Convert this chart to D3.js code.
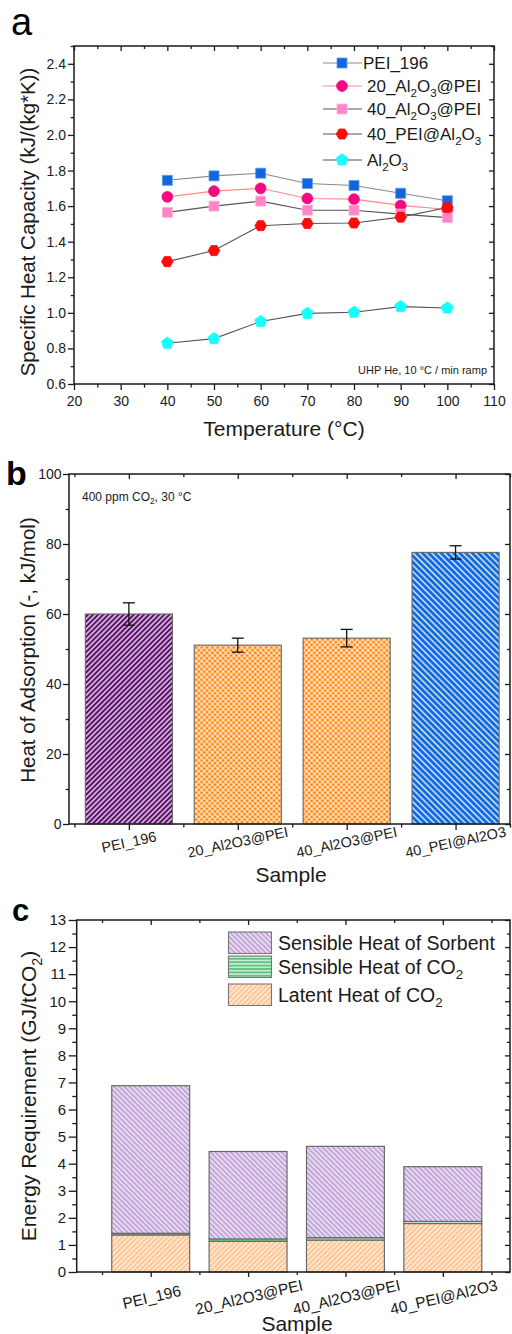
<!DOCTYPE html>
<html><head><meta charset="utf-8">
<script src="https://cdn.jsdelivr.net/npm/d3@7"></script>
<style>
html,body{margin:0;padding:0;background:#fff;}
svg{display:block;font-family:"Liberation Sans",Arial,sans-serif;}
</style></head><body>
<svg id="fig" width="512" height="1334"></svg>
<script>
// ---- Panel a: specific heat capacity vs temperature ----
const temperatures = [40, 50, 60, 70, 80, 90, 100];
const cpPEI196     = [1.745, 1.770, 1.785, 1.727, 1.716, 1.672, 1.630];
const cp20Al2O3PEI = [1.652, 1.684, 1.700, 1.643, 1.639, 1.604, 1.581];
const cp40Al2O3PEI = [1.565, 1.600, 1.628, 1.577, 1.577, 1.555, 1.535];
const cp40PEIAl2O3 = [1.288, 1.350, 1.490, 1.502, 1.505, 1.538, 1.592];
const cpAl2O3      = [0.829, 0.855, 0.951, 0.997, 1.003, 1.035, 1.027];
const cpSeriesNames = ["PEI_196", "20_Al2O3@PEI", "40_Al2O3@PEI", "40_PEI@Al2O3", "Al2O3"];
const tempTicks = [20, 30, 40, 50, 60, 70, 80, 90, 100, 110];
const cpTicks = [0.6, 0.8, 1.0, 1.2, 1.4, 1.6, 1.8, 2.0, 2.2, 2.4];

// ---- Panel b: heat of adsorption ----
const samples = ["PEI_196", "20_Al2O3@PEI", "40_Al2O3@PEI", "40_PEI@Al2O3"];
const heatAdsorption = [60.0, 51.1, 53.1, 77.6];
const heatAdsorptionErr = [3.2, 2.0, 2.5, 1.9];
const heatTicks = [0, 20, 40, 60, 80, 100];

// ---- Panel c: regeneration energy breakdown ----
const latentHeatCO2 = [1.37, 1.13, 1.18, 1.79];
const sensibleHeatCO2 = [0.06, 0.09, 0.09, 0.08];
const sensibleHeatSorbent = [5.45, 3.23, 3.37, 2.02];
const energyLayerNames = ["Latent Heat of CO2", "Sensible Heat of CO2", "Sensible Heat of Sorbent"];
const energyTicks = [0,1,2,3,4,5,6,7,8,9,10,11,12,13];

const svg = d3.select("#fig");
const defs = svg.append("defs");
const INK = "#1a1a1a";

// text with chemical subscripts (digits directly after a letter)
function richText(sel, str, size) {
  const re = /([A-Za-z])(\d+)/g;
  const tokens = [];
  let last = 0, m;
  while ((m = re.exec(str)) !== null) {
    const cut = m.index + 1;
    tokens.push({t: str.slice(last, cut), sub: false});
    tokens.push({t: m[2], sub: true});
    last = cut + m[2].length;
  }
  if (last < str.length) tokens.push({t: str.slice(last), sub: false});
  let shifted = false;
  tokens.forEach(tok => {
    if (!tok.t) return;
    const ts = sel.append("tspan").text(tok.t);
    if (tok.sub) {
      ts.attr("font-size", size * 0.68).attr("dy", shifted ? 0 : size * 0.28);
      shifted = true;
    } else {
      ts.attr("font-size", size);
      if (shifted) { ts.attr("dy", -size * 0.28); shifted = false; }
    }
  });
  return sel;
}

function stripes(id, bg, fg, period, width, angle) {
  const p = defs.append("pattern").attr("id", id).attr("patternUnits", "userSpaceOnUse")
    .attr("width", period).attr("height", period).attr("patternTransform", `rotate(${angle})`);
  p.append("rect").attr("width", period).attr("height", period).attr("fill", bg);
  p.append("line").attr("x1", period / 2).attr("x2", period / 2).attr("y1", 0).attr("y2", period)
    .attr("stroke", fg).attr("stroke-width", width);
}
function crosshatch(id, bg, fg, period, width) {
  const p = defs.append("pattern").attr("id", id).attr("patternUnits", "userSpaceOnUse")
    .attr("width", period).attr("height", period).attr("patternTransform", "rotate(45)");
  p.append("rect").attr("width", period).attr("height", period).attr("fill", bg);
  p.append("line").attr("x1", period / 2).attr("x2", period / 2).attr("y1", 0).attr("y2", period)
    .attr("stroke", fg).attr("stroke-width", width);
  p.append("line").attr("y1", period / 2).attr("y2", period / 2).attr("x1", 0).attr("x2", period)
    .attr("stroke", fg).attr("stroke-width", width);
}
stripes("hPurple", "#5c0c6c", "#f4eef6", 3.6, 1.3, 45);
crosshatch("hOrange", "#ff8000", "#fff3e6", 3.8, 1.1);
stripes("hBlue", "#0a66de", "#f0f6ff", 4.4, 1.4, -45);
stripes("hSorbent", "#c2a4d8", "#ffffff", 3.6, 1.1, -45);
stripes("hCO2", "#5cc27d", "#ffffff", 3.4, 1.1, 90);
stripes("hLatent", "#ffc48f", "#ffffff", 3.6, 1.1, 45);

function styleAxis(g, fs) {
  g.select(".domain").remove();
  g.selectAll(".tick line").attr("stroke", INK).attr("stroke-width", 1.3);
  g.selectAll(".tick text").attr("fill", INK).attr("font-size", fs)
    .attr("font-family", "Liberation Sans, Arial, sans-serif");
}

// Origin-style box: labelled outward ticks bottom/left, inward mirror ticks top/right
function frame(g, x, y, o) {
  const [x0, x1] = x.range(), [y0, y1] = y.range();
  const none = () => "";
  g.append("g").attr("transform", `translate(0,${y0})`)
    .call(d3.axisBottom(x).tickValues(o.xMajor).tickSize(o.lenB).tickPadding(o.padB).tickFormat(o.xFmt || none))
    .call(s => styleAxis(s, o.fs));
  g.append("g").attr("transform", `translate(0,${y0})`)
    .call(d3.axisBottom(x).tickValues(o.xMinor).tickSize(o.lenB * 0.6).tickFormat(none)).call(s => styleAxis(s, o.fs));
  g.append("g").attr("transform", `translate(${x0},0)`)
    .call(d3.axisLeft(y).tickValues(o.yMajor).tickSize(o.lenL).tickPadding(o.padL).tickFormat(o.yFmt))
    .call(s => styleAxis(s, o.fs));
  g.append("g").attr("transform", `translate(${x0},0)`)
    .call(d3.axisLeft(y).tickValues(o.yMinor).tickSize(o.lenL * 0.55).tickFormat(none)).call(s => styleAxis(s, o.fs));
  g.append("g").attr("transform", `translate(0,${y1})`)
    .call(d3.axisTop(x).tickValues(o.xMajor).tickSize(-5).tickFormat(none)).call(s => styleAxis(s, o.fs));
  g.append("g").attr("transform", `translate(0,${y1})`)
    .call(d3.axisTop(x).tickValues(o.xMinor).tickSize(-3).tickFormat(none)).call(s => styleAxis(s, o.fs));
  g.append("g").attr("transform", `translate(${x1},0)`)
    .call(d3.axisRight(y).tickValues(o.yMajor).tickSize(-5).tickFormat(none)).call(s => styleAxis(s, o.fs));
  g.append("g").attr("transform", `translate(${x1},0)`)
    .call(d3.axisRight(y).tickValues(o.yMinor).tickSize(-3).tickFormat(none)).call(s => styleAxis(s, o.fs));
  g.append("rect").attr("x", x0).attr("y", y1).attr("width", x1 - x0).attr("height", y0 - y1)
    .attr("fill", "none").attr("stroke", INK).attr("stroke-width", 1.5);
}

function polygonPath(n, r, rot) {
  const pts = d3.range(n).map(i => {
    const a = rot + i * 2 * Math.PI / n;
    return [r * Math.cos(a), r * Math.sin(a)];
  });
  return "M" + pts.map(p => p.join(",")).join("L") + "Z";
}

function rotatedTitle(g, str, cx, cy, size) {
  const t = g.append("text").attr("transform", `translate(${cx},${cy}) rotate(-90)`)
    .attr("text-anchor", "middle").attr("fill", INK).attr("font-size", size);
  richText(t, str, size);
}

function panelLetter(str, x, y, size, weight) {
  svg.append("text").attr("x", x).attr("y", y).attr("font-size", size).attr("font-weight", weight)
    .attr("fill", "#000").text(str);
}

// ================= Panel a =================
{
  const g = svg.append("g");
  const x = d3.scaleLinear().domain([20, 110]).range([74, 494]);
  const y = d3.scaleLinear().domain([0.6, 2.5]).range([384, 46]);
  frame(g, x, y, {
    xMajor: tempTicks, xMinor: d3.range(25, 110, 10),
    yMajor: cpTicks, yMinor: d3.range(0.7, 2.55, 0.2),
    xFmt: d3.format("d"), yFmt: d3.format(".1f"),
    lenB: 6, padB: 6, lenL: 6, padL: 2, fs: 14
  });

  const series = [
    {vals: cpPEI196, line: "#8a8a8a", fill: "#1166dd", stroke: "#5a9be8", shape: d3.symbol(d3.symbolSquare, 100)()},
    {vals: cp20Al2O3PEI, line: "#ff8a8a", fill: "#f20a7e", stroke: "#f20a7e", shape: d3.symbol(d3.symbolCircle, 92)()},
    {vals: cp40Al2O3PEI, line: "#555555", fill: "#ff85c6", stroke: "#ffb0da", shape: d3.symbol(d3.symbolSquare, 100)()},
    {vals: cp40PEIAl2O3, line: "#555555", fill: "#ff0a0a", stroke: "#ff0a0a", shape: polygonPath(6, 5.8, 0)},
    {vals: cpAl2O3, line: "#555555", fill: "#14ffff", stroke: "#14ffff", shape: polygonPath(5, 6.2, -Math.PI / 2)}
  ];
  const line = d3.line().x((d, i) => x(temperatures[i])).y(d => y(d));
  series.forEach(s => {
    g.append("path").attr("d", line(s.vals)).attr("fill", "none").attr("stroke", s.line).attr("stroke-width", 1.1);
  });
  series.forEach(s => {
    g.selectAll(null).data(s.vals).join("path")
      .attr("transform", (d, i) => `translate(${x(temperatures[i])},${y(d)})`)
      .attr("d", s.shape).attr("fill", s.fill).attr("stroke", s.stroke).attr("stroke-width", 0.8);
  });

  // legend
  const legY = [63, 86, 109, 134, 160];
  series.forEach((s, i) => {
    const lg = g.append("g").attr("transform", `translate(0,${legY[i]})`);
    lg.append("line").attr("x1", 323).attr("x2", 362).attr("y1", 0).attr("y2", 0)
      .attr("stroke", s.line).attr("stroke-width", 1.1);
    lg.append("path").attr("transform", "translate(342,0)").attr("d", s.shape)
      .attr("fill", s.fill).attr("stroke", s.stroke).attr("stroke-width", 0.8);
    const t = lg.append("text").attr("x", i === 0 ? 363 : 367).attr("y", 6).attr("fill", INK);
    richText(t, cpSeriesNames[i], 17);
  });

  g.append("text").attr("x", 487).attr("y", 374).attr("text-anchor", "end")
    .attr("font-size", 11).attr("fill", INK).text("UHP He, 10 °C / min ramp");
  g.append("text").attr("x", 284).attr("y", 436).attr("text-anchor", "middle")
    .attr("font-size", 21).attr("fill", INK).text("Temperature (°C)");
  rotatedTitle(g, "Specific Heat Capacity (kJ/(kg*K))", 35, 222, 20.5);
  panelLetter("a", 11, 35, 38, "normal");
}

// ================= Panel b =================
{
  const g = svg.append("g");
  const x = d3.scaleLinear().domain([0.45, 4.5]).range([69, 510]);
  const y = d3.scaleLinear().domain([0, 100]).range([824, 474]);
  const fills = ["url(#hPurple)", "url(#hOrange)", "url(#hOrange)", "url(#hBlue)"];
  const bw = 0.8;
  g.selectAll(null).data(heatAdsorption).join("rect")
    .attr("x", (d, i) => x(i + 1 - bw / 2)).attr("width", x(bw) - x(0))
    .attr("y", d => y(d)).attr("height", d => y(0) - y(d))
    .attr("fill", (d, i) => fills[i]).attr("stroke", "#666").attr("stroke-width", 1.1);

  frame(g, x, y, {
    xMajor: [1, 2, 3, 4], xMinor: [0.5, 1.5, 2.5, 3.5, 4.5],
    yMajor: heatTicks, yMinor: d3.range(10, 100, 20),
    xFmt: null, yFmt: d3.format("d"),
    lenB: 6, padB: 4, lenL: 6, padL: 1.5, fs: 14
  });

  // error bars
  heatAdsorption.forEach((v, i) => {
    const cx = x(i + 1), e = heatAdsorptionErr[i];
    g.append("line").attr("x1", cx).attr("x2", cx).attr("y1", y(v - e)).attr("y2", y(v + e))
      .attr("stroke", "#111").attr("stroke-width", 1.3);
    [v - e, v + e].forEach(yy => g.append("line").attr("x1", cx - 6).attr("x2", cx + 6)
      .attr("y1", y(yy)).attr("y2", y(yy)).attr("stroke", "#111").attr("stroke-width", 1.3));
  });

  samples.forEach((s, i) => {
    g.append("text").attr("transform", `translate(${x(i + 1)},842) rotate(-12)`)
      .attr("text-anchor", "middle").attr("dy", "0.35em").attr("font-size", 14.5).attr("fill", INK).text(s);
  });
  const ann = g.append("text").attr("x", 82).attr("y", 501).attr("fill", INK);
  richText(ann, "400 ppm CO2, 30 °C", 12);
  g.append("text").attr("x", 291).attr("y", 882).attr("text-anchor", "middle")
    .attr("font-size", 21).attr("fill", INK).text("Sample");
  rotatedTitle(g, "Heat of Adsorption (-, kJ/mol)", 35, 650, 20.5);
  panelLetter("b", 6, 485, 34, "bold");
}

// ================= Panel c =================
{
  const g = svg.append("g");
  const x = d3.scaleLinear().domain([0.24, 4.69]).range([76.7, 510]);
  const y = d3.scaleLinear().domain([0, 13]).range([1272, 920]);
  const layers = [latentHeatCO2, sensibleHeatCO2, sensibleHeatSorbent];
  const layerFill = ["url(#hLatent)", "url(#hCO2)", "url(#hSorbent)"];
  const bw = 0.8;
  samples.forEach((s, i) => {
    let base = 0;
    layers.forEach((arr, k) => {
      const top = base + arr[i];
      g.append("rect").attr("x", x(i + 1 - bw / 2)).attr("width", x(bw) - x(0))
        .attr("y", y(top)).attr("height", y(base) - y(top))
        .attr("fill", layerFill[k]).attr("stroke", "#6a6a6a").attr("stroke-width", 1.2);
      base = top;
    });
  });

  frame(g, x, y, {
    xMajor: [1, 2, 3, 4], xMinor: [0.5, 1.5, 2.5, 3.5, 4.5],
    yMajor: energyTicks, yMinor: d3.range(0.5, 13, 1),
    xFmt: null, yFmt: d3.format("d"),
    lenB: 5, padB: 4, lenL: 8, padL: 2.5, fs: 15
  });

  samples.forEach((s, i) => {
    g.append("text").attr("transform", `translate(${x(i + 1) + 1},1297) rotate(-13)`)
      .attr("text-anchor", "middle").attr("dy", "0.35em").attr("font-size", 15.5).attr("fill", INK).text(s);
  });

  // legend (top layer first)
  const legRows = [{k: 2, y: 932}, {k: 1, y: 956}, {k: 0, y: 984}];
  legRows.forEach(r => {
    g.append("rect").attr("x", 228.5).attr("y", r.y).attr("width", 43).attr("height", 21.5)
      .attr("fill", layerFill[r.k]).attr("stroke", "#777").attr("stroke-width", 1.1);
    const t = g.append("text").attr("x", 278).attr("y", r.y + 17.5).attr("fill", INK);
    richText(t, energyLayerNames[r.k], 19.5);
  });

  g.append("text").attr("x", 297).attr("y", 1331).attr("text-anchor", "middle")
    .attr("font-size", 21).attr("fill", INK).text("Sample");
  rotatedTitle(g, "Energy Requirement (GJ/tCO2)", 36, 1096, 21);
  panelLetter("c", 12, 921, 31, "bold");
}
</script>
</body></html>
